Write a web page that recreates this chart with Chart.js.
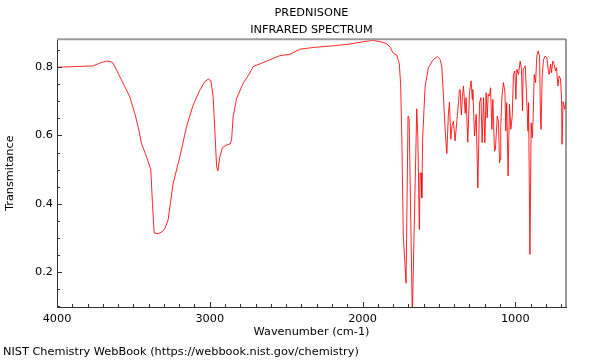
<!DOCTYPE html>
<html>
<head>
<meta charset="utf-8">
<script src="https://cdn.jsdelivr.net/npm/chart.js@4/dist/chart.umd.min.js"></script>
<style>
  html, body { margin: 0; padding: 0; background: #fff; }
  #wrap { width: 600px; height: 360px; position: relative; }
</style>
</head>
<body>
<div id="wrap"><canvas id="c" width="600" height="360"></canvas></div>
<script>
// ---- Data ----
const titleLines = ['PREDNISONE', 'INFRARED SPECTRUM'];
const xAxisTitle = 'Wavenumber (cm-1)';
const yAxisTitle = 'Transmitance';
const footerText = 'NIST Chemistry WebBook (https://webbook.nist.gov/chemistry)';

const wavenumbers = [
  4000, 3764, 3720, 3680, 3650, 3633, 3578, 3524, 3491, 3469, 3447, 3414, 3386, 3375, 3364,
  3338, 3310, 3294, 3273, 3240, 3196, 3152, 3109, 3065, 3032, 3010, 2993, 2978, 2967, 2955,
  2947, 2934, 2916, 2890, 2868, 2857, 2847, 2824, 2781, 2737, 2716, 2541, 2475, 2410, 2322,
  2191, 2082, 1995, 1929, 1885, 1846, 1820, 1802, 1787, 1776, 1765, 1759, 1750, 1743, 1733,
  1715, 1702, 1695, 1674, 1645, 1638, 1628, 1623, 1617, 1612, 1606, 1590, 1569, 1536, 1510,
  1492, 1481, 1470, 1459, 1448, 1438, 1431, 1422, 1414, 1405, 1394, 1383, 1372, 1366, 1361,
  1353, 1346, 1339, 1328, 1322, 1311, 1300, 1289, 1282, 1278, 1267, 1256, 1245, 1234, 1225,
  1217, 1208, 1199, 1191, 1184, 1177, 1169, 1162, 1153, 1147, 1136, 1130, 1118, 1110, 1103,
  1100, 1095, 1087, 1078, 1068, 1062, 1056, 1047, 1038, 1029, 1020, 1012, 1003, 996, 990,
  979, 968, 959, 953, 948, 935, 926, 917, 913, 904, 896, 889, 884, 876, 867,
  859, 850, 841, 835, 831, 824, 815, 804, 793, 785, 778, 769, 763, 754, 746,
  737, 730, 721, 713, 704, 697, 694, 687, 676, 668
];
const transmittance = [
  0.800, 0.804, 0.812, 0.818, 0.817, 0.812, 0.763, 0.714, 0.665, 0.626, 0.577, 0.537, 0.500, 0.400, 0.314,
  0.312, 0.318, 0.327, 0.352, 0.459, 0.537, 0.626, 0.689, 0.733, 0.758, 0.765, 0.761, 0.714, 0.616, 0.508,
  0.496, 0.537, 0.565, 0.572, 0.575, 0.587, 0.655, 0.709, 0.753, 0.784, 0.802, 0.834, 0.838, 0.853, 0.858,
  0.863, 0.868, 0.875, 0.879, 0.875, 0.870, 0.860, 0.843, 0.838, 0.836, 0.820, 0.810, 0.745, 0.598, 0.305,
  0.167, 0.657, 0.650, 0.070, 0.678, 0.598, 0.324, 0.490, 0.490, 0.417, 0.598, 0.745, 0.799, 0.823, 0.831,
  0.823, 0.802, 0.714, 0.616, 0.547, 0.662, 0.698, 0.589, 0.628, 0.642, 0.584, 0.640, 0.696, 0.733, 0.735,
  0.660, 0.714, 0.745, 0.665, 0.711, 0.580, 0.725, 0.760, 0.706, 0.735, 0.598, 0.662, 0.446, 0.696, 0.711,
  0.579, 0.711, 0.579, 0.725, 0.652, 0.721, 0.716, 0.740, 0.618, 0.706, 0.554, 0.560, 0.657, 0.640, 0.520,
  0.530, 0.628, 0.716, 0.755, 0.730, 0.613, 0.696, 0.481, 0.691, 0.618, 0.657, 0.779, 0.789, 0.706, 0.794,
  0.779, 0.818, 0.794, 0.672, 0.794, 0.804, 0.716, 0.613, 0.696, 0.251, 0.637, 0.593, 0.640, 0.779, 0.755,
  0.833, 0.848, 0.833, 0.647, 0.618, 0.774, 0.823, 0.833, 0.828, 0.794, 0.779, 0.809, 0.784, 0.818, 0.809,
  0.789, 0.799, 0.745, 0.774, 0.767, 0.706, 0.574, 0.699, 0.677, 0.700
];

const xTickValues = [1000, 2000, 3000, 4000];
const xTickLabels = ['1000', '2000', '3000', '4000'];
const yTickValues = [0.2, 0.4, 0.6, 0.8];
const yTickLabels = ['0.2', '0.4', '0.6', '0.8'];

// ---- Chart ----
const FONT = 'DejaVu Sans';
const FS = 11.3;

const points = wavenumbers.map((w, i) => ({ x: w, y: transmittance[i] }));

const framePlugin = {
  id: 'frame',
  afterDatasetsDraw(chart) {
    const { ctx, chartArea: a, scales: { x, y } } = chart;
    ctx.save();
    // top border
    ctx.strokeStyle = '#9a9a9a';
    ctx.lineWidth = 2;
    ctx.beginPath(); ctx.moveTo(a.left, a.top); ctx.lineTo(a.right, a.top); ctx.stroke();
    // right border
    ctx.strokeStyle = '#555';
    ctx.lineWidth = 1.2;
    ctx.beginPath(); ctx.moveTo(a.right, a.top); ctx.lineTo(a.right, a.bottom); ctx.stroke();
    // inward ticks on bottom axis (every 100, major every 1000)
    ctx.strokeStyle = '#333';
    ctx.lineWidth = 1;
    for (let v = 700; v <= 4000; v += 100) {
      const px = Math.round(x.getPixelForValue(v)) + 0.5;
      if (px < a.left - 1 || px > a.right + 1) continue;
      const len = (v % 1000 === 0) ? 5 : 3;
      ctx.beginPath(); ctx.moveTo(px, a.bottom); ctx.lineTo(px, a.bottom - len); ctx.stroke();
    }
    // inward ticks on left axis (every 0.05, major every 0.2)
    for (let k = 2; k <= 17; k++) {
      const v = k * 0.05;
      const py = Math.round(y.getPixelForValue(v)) + 0.5;
      if (py < a.top || py > a.bottom) continue;
      const len = (k % 4 === 0) ? 5 : 3;
      ctx.beginPath(); ctx.moveTo(a.left, py); ctx.lineTo(a.left + len, py); ctx.stroke();
    }
    ctx.restore();
  }
};

new Chart(document.getElementById('c'), {
  type: 'line',
  data: {
    datasets: [{
      data: points,
      borderColor: 'rgba(255,0,0,0.85)',
      borderWidth: 1,
      pointRadius: 0,
      tension: 0,
      fill: false
    }]
  },
  options: {
    responsive: false,
    animation: false,
    devicePixelRatio: 1,
    layout: { padding: { top: 0, left: 3, right: 34, bottom: 0 } },
    plugins: {
      legend: { display: false },
      tooltip: { enabled: false },
      title: {
        display: true,
        text: titleLines,
        fullSize: false,
        color: '#000',
        font: { family: FONT, size: FS, weight: 'normal', lineHeight: '17px' },
        padding: { top: 4.3, bottom: 1 }
      },
      subtitle: {
        display: true,
        text: footerText,
        position: 'bottom',
        align: 'start',
        fullSize: true,
        color: '#000',
        font: { family: FONT, size: FS, weight: 'normal', lineHeight: '14px' },
        padding: { top: 0, bottom: 1 }
      }
    },
    scales: {
      x: {
        type: 'linear',
        reverse: true,
        min: 668,
        max: 4000,
        afterBuildTicks: (s) => { s.ticks = xTickValues.map(v => ({ value: v })); },
        afterFit: (s) => { s.height = 38; },
        ticks: {
          color: '#000',
          font: { family: FONT, size: FS },
          padding: 5.2,
          maxRotation: 0,
          autoSkip: false,
          callback: (v) => xTickLabels[xTickValues.indexOf(v)] ?? ''
        },
        grid: { display: true, drawOnChartArea: false, drawTicks: false },
        border: { display: true, color: '#333', width: 1 },
        title: {
          display: true,
          text: xAxisTitle,
          color: '#000',
          font: { family: FONT, size: FS },
          padding: { top: 0, bottom: 6.2 }
        }
      },
      y: {
        type: 'linear',
        min: 0.097,
        max: 0.882,
        afterBuildTicks: (s) => { s.ticks = yTickValues.map(v => ({ value: v })); },
        afterFit: (s) => { s.width = 54; },
        ticks: {
          color: '#000',
          font: { family: FONT, size: FS },
          padding: 4,
          autoSkip: false,
          callback: (v) => {
            const i = yTickValues.findIndex(t => Math.abs(t - v) < 1e-6);
            return i >= 0 ? yTickLabels[i] : '';
          }
        },
        grid: { display: true, drawOnChartArea: false, drawTicks: false },
        border: { display: true, color: '#333', width: 1 },
        title: {
          display: true,
          text: yAxisTitle,
          color: '#000',
          font: { family: FONT, size: FS },
          padding: { top: 0.2, bottom: 0 }
        }
      }
    }
  },
  plugins: [framePlugin]
});
</script>
</body>
</html>
